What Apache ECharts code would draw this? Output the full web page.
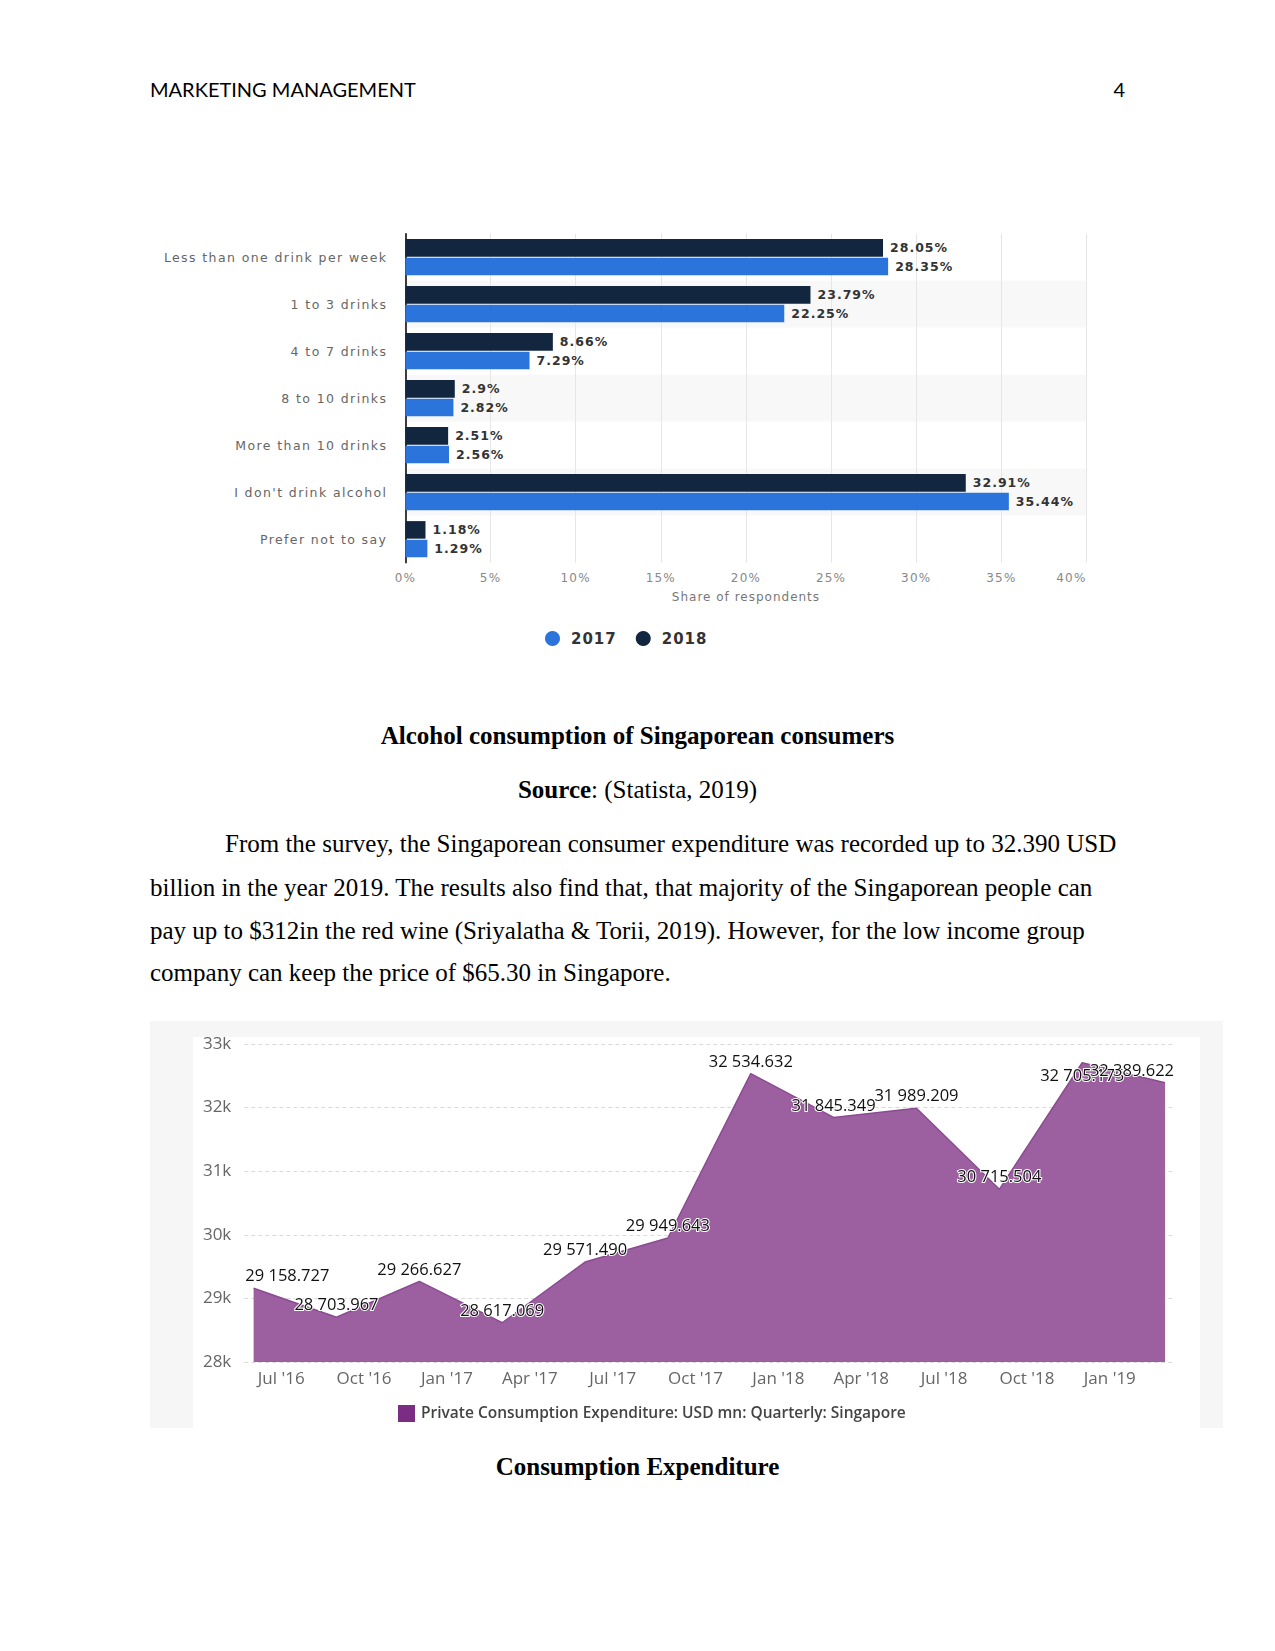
<!DOCTYPE html>
<html><head><meta charset="utf-8">
<script src="https://cdn.jsdelivr.net/npm/echarts@6/dist/echarts.min.js"></script>
<style>
html,body{margin:0;padding:0;background:#fff;}
#page{position:relative;width:1275px;height:1651px;overflow:hidden;background:#fff;}
.abs{position:absolute;}
.hdr{font-family:Lato,"Open Sans",sans-serif;font-size:20px;color:#000;line-height:24px;white-space:nowrap;}
.serif{font-family:"Liberation Serif","Times New Roman",serif;font-size:25px;color:#000;line-height:43px;white-space:nowrap;}
.cap{left:0;width:1275px;text-align:center;}
</style></head>
<body><div id="page">
<div class="abs hdr" style="left:150px;top:77px;">MARKETING MANAGEMENT</div>
<div class="abs hdr" style="left:1025px;width:100px;text-align:right;top:77px;">4</div>

<div id="c1" class="abs" style="left:140px;top:200px;width:1000px;height:460px;"></div>

<div class="abs serif cap" style="top:714px;"><b>Alcohol consumption of Singaporean consumers</b></div>
<div class="abs serif cap" style="top:768px;"><b>Source</b>: (Statista, 2019)</div>
<div class="abs serif" style="left:225px;top:822px;">From the survey, the Singaporean consumer expenditure was recorded up to 32.390 USD</div>
<div class="abs serif" style="left:150px;top:866px;">billion in the year 2019. The results also find that, that majority of the Singaporean people can</div>
<div class="abs serif" style="left:150px;top:909px;">pay up to $312in the red wine (Sriyalatha &amp; Torii, 2019). However, for the low income group</div>
<div class="abs serif" style="left:150px;top:951px;">company can keep the price of $65.30 in Singapore.</div>

<div class="abs" style="left:150px;top:1021px;width:1073px;height:407px;background:#f6f6f6;"></div>
<div class="abs" style="left:193px;top:1037px;width:1007px;height:391px;background:#fff;"></div>
<div id="c2" class="abs" style="left:150px;top:1021px;width:1073px;height:407px;"></div>

<div class="abs serif cap" style="top:1445px;"><b>Consumption Expenditure</b></div>
</div>
<script>
// ---- Chart 1 data: Alcohol consumption of Singaporean consumers ----
const barCategories = ['Less than one drink per week', '1 to 3 drinks', '4 to 7 drinks', '8 to 10 drinks', 'More than 10 drinks', "I don't drink alcohol", 'Prefer not to say'];
const values2018 = [28.05, 23.79, 8.66, 2.9, 2.51, 32.91, 1.18];
const values2017 = [28.35, 22.25, 7.29, 2.82, 2.56, 35.44, 1.29];
const legendYears = ['2017', '2018'];

// ---- Chart 2 data: Private consumption expenditure (USD mn, quarterly) ----
const expQuarters = ['2016-06', '2016-09', '2016-12', '2017-03', '2017-06', '2017-09', '2017-12', '2018-03', '2018-06', '2018-09', '2018-12', '2019-03'];
const expValues = [29158.727, 28703.967, 29266.627, 28617.069, 29571.490, 29949.643, 32534.632, 31845.349, 31989.209, 30715.504, 32705.175, 32389.622];
const expTickMonths = ['2016-07', '2016-10', '2017-01', '2017-04', '2017-07', '2017-10', '2018-01', '2018-04', '2018-07', '2018-10', '2019-01'];
const expTickLabels = ["Jul '16", "Oct '16", "Jan '17", "Apr '17", "Jul '17", "Oct '17", "Jan '18", "Apr '18", "Jul '18", "Oct '18", "Jan '19"];
const expSeriesName = 'Private Consumption Expenditure: USD mn: Quarterly: Singapore';

function monthIndex(s) { const [y, m] = s.split('-').map(Number); return (y - 2016) * 12 + (m - 1); }

const statFont = 'DejaVu Sans';
const c1El = document.getElementById('c1');
const c1 = echarts.init(c1El, null, {renderer: 'svg'});
const barLabel = {show: true, position: 'right', distance: 7, formatter: p => p.value + '%', fontFamily: statFont, fontWeight: 'bold', fontSize: 12.5, color: '#333'};
c1.setOption({
  animation: false,
  grid: {left: 265.4, top: 33.7, width: 681.1, height: 329},
  xAxis: {
    type: 'value', min: 0, max: 40, interval: 5,
    axisLabel: {formatter: '{value}%', color: '#888', fontFamily: statFont, fontSize: 12, margin: 9, alignMaxLabel: 'right'},
    splitLine: {lineStyle: {color: '#e6e6e6'}},
    axisLine: {show: false}, axisTick: {show: false},
    name: 'Share of respondents', nameLocation: 'middle', nameGap: 28,
    nameTextStyle: {color: '#777', fontFamily: statFont, fontSize: 12}
  },
  yAxis: {
    type: 'category', inverse: true, data: barCategories,
    axisLine: {show: true, lineStyle: {color: '#000', width: 1.5}},
    axisTick: {show: false},
    axisLabel: {color: '#666', fontFamily: statFont, fontSize: 12.5, margin: 18},
    splitArea: {show: true, areaStyle: {color: ['#ffffff', '#f8f8f8']}}
  },
  legend: {
    data: legendYears, left: 400, top: 426, icon: 'circle', itemWidth: 15, itemHeight: 15, itemGap: 23,
    textStyle: {fontFamily: statFont, fontWeight: 'bold', fontSize: 15, color: '#333', padding: [0, 0, 0, 6]}
  },
  series: [
    {name: '2018', type: 'bar', data: values2018, itemStyle: {color: '#13263f'}, barGap: '6%', barCategoryGap: '23%', label: barLabel},
    {name: '2017', type: 'bar', data: values2017, itemStyle: {color: '#2a74db'}, barGap: '6%', barCategoryGap: '23%', label: barLabel}
  ]
});
// Statista-style letter spacing on the chart's texts
function spaceTexts() {
  c1El.querySelectorAll('svg text').forEach(t => {
    const s = t.textContent;
    let ls = '1px';
    if (barCategories.indexOf(s) >= 0) ls = '1.4px';
    else if (/^\d+%$/.test(s)) ls = '1.2px';
    t.setAttribute('letter-spacing', ls);
  });
}
spaceTexts();
c1.on('finished', spaceTexts);

const g2 = {left: 94.3, top: 23, width: 930.7, height: 318};
const firstM = monthIndex(expQuarters[0]);
const lastM = monthIndex(expQuarters[expQuarters.length - 1]);
function fmtNum(v) {
  const s = v.toFixed(3); const [i, d] = s.split('.');
  return i.replace(/\B(?=(\d{3})+(?!\d))/g, ' ') + '.' + d;
}
const tickIdx = expTickMonths.map(monthIndex);
const c2 = echarts.init(document.getElementById('c2'), null, {renderer: 'canvas'});
c2.setOption({
  animation: false,
  grid: g2,
  xAxis: {
    type: 'value', min: firstM - 0.337, max: lastM + 0.36,
    axisLabel: {customValues: tickIdx, formatter: v => expTickLabels[tickIdx.indexOf(Math.round(v))] || '', color: '#666', fontFamily: 'Open Sans', fontSize: 17, margin: 9},
    axisTick: {show: false}, axisLine: {show: false}, splitLine: {show: false}
  },
  yAxis: {
    type: 'value', min: 28000, max: 33000, interval: 1000,
    axisLabel: {formatter: v => (v / 1000) + 'k', color: '#666', fontFamily: 'Open Sans', fontSize: 17, margin: 13},
    splitLine: {lineStyle: {color: '#d9d9d9', type: [4, 3]}},
    axisLine: {show: false}, axisTick: {show: false}
  },
  legend: {
    data: [{name: expSeriesName, itemStyle: {color: '#7b2d83'}}], left: 243, top: 379, icon: 'rect', itemWidth: 17, itemHeight: 17,
    textStyle: {fontFamily: 'Open Sans', fontWeight: 600, fontSize: 15.5, color: '#444', padding: [0, 0, 0, 1]}
  },
  series: [{
    name: expSeriesName, type: 'line',
    data: expQuarters.map((q, i) => [monthIndex(q), expValues[i]]),
    symbol: 'circle', symbolSize: 0.1,
    itemStyle: {color: '#7b2d83'},
    lineStyle: {color: '#8b4b91', width: 1.5},
    areaStyle: {color: '#9c60a1', opacity: 1, origin: 'start'},
    label: {show: true, position: 'top', distance: 3, formatter: p => fmtNum(p.value[1]), fontFamily: 'Open Sans', fontSize: 16.5, color: '#111', textBorderColor: '#fff', textBorderWidth: 2},
    labelLayout: function (p) {
      const r = p.labelRect, L = g2.left, R = g2.left + g2.width;
      const out = {};
      if (r.x < L) out.dx = L - r.x;
      else if (r.x + r.width > R) out.dx = R - (r.x + r.width);
      if (r.y < g2.top) out.dy = r.height + 6;
      return out;
    }
  }]
});
</script>
</body></html>
